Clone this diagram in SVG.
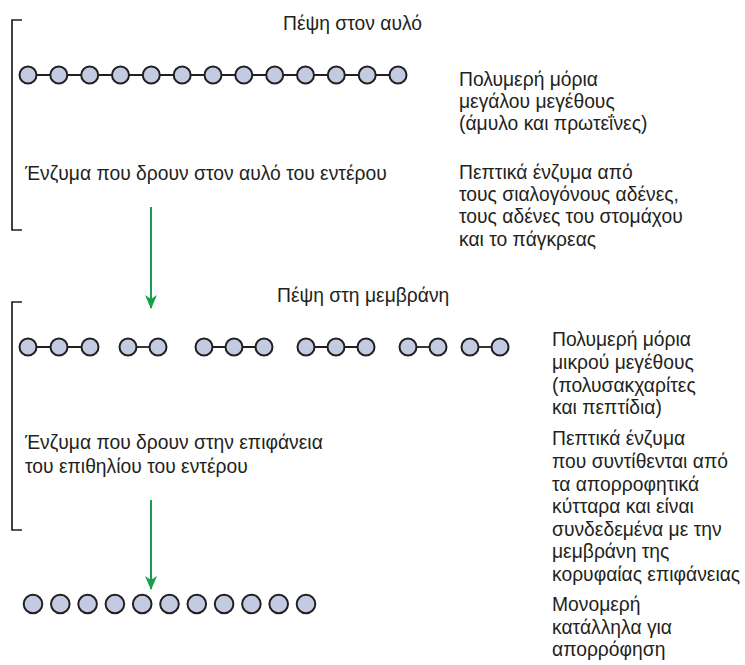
<svg xmlns="http://www.w3.org/2000/svg" width="745" height="665" viewBox="0 0 745 665">
  <style>
    .t { font-family: "Liberation Sans", Arial, sans-serif; font-size: 19.3px; fill: #231f20; }
    .m { fill: #c3cbe2; stroke: #231f20; stroke-width: 2; }
    .bond { stroke: #231f20; stroke-width: 1.8; }
    .br { fill: none; stroke: #231f20; stroke-width: 1.7; }
    .arr { stroke: #16a04a; stroke-width: 2; fill: none; }
  </style>
  <defs>
    <circle id="mono" r="8.5" class="m"/>
    <circle id="free" r="9.3" class="m"/>
    <!-- notched arrowhead, drawn pointing along +x so orient="auto" turns it to the line -->
    <marker id="head" viewBox="0 0 14 12" refX="13" refY="6" markerWidth="14" markerHeight="12" markerUnits="userSpaceOnUse" orient="auto">
      <path d="M0,0 L14,6 L0,12 L4,6 Z" fill="#16a04a"/>
    </marker>
  </defs>

  <rect width="745" height="665" fill="#ffffff"/>

  <!-- luminal digestion stage -->
  <g id="bracket-lumen">
    <path class="br" d="M22,20 H12 V230 H22"/>
  </g>
  <g id="title-lumen">
    <text class="t" x="283" y="30">Πέψη στον αυλό</text>
  </g>
  <g id="chain-large">
    <line class="bond" x1="28" y1="75" x2="398" y2="75"/>
    <use href="#mono" x="28" y="75"/>
    <use href="#mono" x="58.8" y="75"/>
    <use href="#mono" x="89.7" y="75"/>
    <use href="#mono" x="120.5" y="75"/>
    <use href="#mono" x="151.3" y="75"/>
    <use href="#mono" x="182.2" y="75"/>
    <use href="#mono" x="213" y="75"/>
    <use href="#mono" x="243.8" y="75"/>
    <use href="#mono" x="274.7" y="75"/>
    <use href="#mono" x="305.5" y="75"/>
    <use href="#mono" x="336.3" y="75"/>
    <use href="#mono" x="367.2" y="75"/>
    <use href="#mono" x="398" y="75"/>
  </g>
  <g id="label-large">
    <text class="t" x="459" y="86">Πολυμερή μόρια</text>
    <text class="t" x="459" y="108">μεγάλου μεγέθους</text>
    <text class="t" x="459" y="130">(άμυλο και πρωτεΐνες)</text>
  </g>
  <g id="enzymes-lumen">
    <text class="t" x="25" y="180">Ένζυμα που δρουν στον αυλό του εντέρου</text>
  </g>
  <g id="label-lumen-enzymes">
    <text class="t" x="459" y="179">Πεπτικά ένζυμα από</text>
    <text class="t" x="459" y="201">τους σιαλογόνους αδένες,</text>
    <text class="t" x="459" y="223">τους αδένες του στομάχου</text>
    <text class="t" x="459" y="246">και το πάγκρεας</text>
  </g>

  <!-- membrane digestion stage -->
  <g id="bracket-membrane">
    <path class="br" d="M22,302 H12 V530 H22"/>
  </g>
  <g id="title-membrane">
    <text class="t" x="277" y="302">Πέψη στη μεμβράνη</text>
  </g>
  <g id="chain-small">
    <line class="bond" x1="28" y1="347" x2="90" y2="347"/>
    <line class="bond" x1="128" y1="347" x2="158" y2="347"/>
    <line class="bond" x1="204" y1="347" x2="264" y2="347"/>
    <line class="bond" x1="306" y1="347" x2="366" y2="347"/>
    <line class="bond" x1="408" y1="347" x2="438" y2="347"/>
    <line class="bond" x1="470" y1="347" x2="500" y2="347"/>
    <use href="#mono" x="28" y="347"/>
    <use href="#mono" x="59" y="347"/>
    <use href="#mono" x="90" y="347"/>
    <use href="#mono" x="128" y="347"/>
    <use href="#mono" x="158" y="347"/>
    <use href="#mono" x="204" y="347"/>
    <use href="#mono" x="234" y="347"/>
    <use href="#mono" x="264" y="347"/>
    <use href="#mono" x="306" y="347"/>
    <use href="#mono" x="336" y="347"/>
    <use href="#mono" x="366" y="347"/>
    <use href="#mono" x="408" y="347"/>
    <use href="#mono" x="438" y="347"/>
    <use href="#mono" x="470" y="347"/>
    <use href="#mono" x="500" y="347"/>
  </g>
  <g id="label-small">
    <text class="t" x="552" y="346">Πολυμερή μόρια</text>
    <text class="t" x="552" y="369">μικρού μεγέθους</text>
    <text class="t" x="552" y="392">(πολυσακχαρίτες</text>
    <text class="t" x="552" y="414">και πεπτίδια)</text>
  </g>
  <g id="enzymes-membrane">
    <text class="t" x="25" y="449">Ένζυμα που δρουν στην επιφάνεια</text>
    <text class="t" x="25" y="473">του επιθηλίου του εντέρου</text>
  </g>
  <g id="label-membrane-enzymes">
    <text class="t" x="552" y="445">Πεπτικά ένζυμα</text>
    <text class="t" x="552" y="468">που συντίθενται από</text>
    <text class="t" x="552" y="491">τα απορροφητικά</text>
    <text class="t" x="552" y="513">κύτταρα και είναι</text>
    <text class="t" x="552" y="536">συνδεδεμένα με την</text>
    <text class="t" x="552" y="558">μεμβράνη της</text>
    <text class="t" x="552" y="581">κορυφαίας επιφάνειας</text>
  </g>

  <!-- absorbable monomers -->
  <g id="monomers">
    <use href="#free" x="33" y="604"/>
    <use href="#free" x="60.3" y="604"/>
    <use href="#free" x="87.6" y="604"/>
    <use href="#free" x="114.9" y="604"/>
    <use href="#free" x="142.2" y="604"/>
    <use href="#free" x="169.5" y="604"/>
    <use href="#free" x="196.8" y="604"/>
    <use href="#free" x="224.1" y="604"/>
    <use href="#free" x="251.4" y="604"/>
    <use href="#free" x="278.7" y="604"/>
    <use href="#free" x="306" y="604"/>
  </g>
  <g id="label-monomers">
    <text class="t" x="552" y="611">Μονομερή</text>
    <text class="t" x="552" y="634">κατάλληλα για</text>
    <text class="t" x="552" y="656">απορρόφηση</text>
  </g>

  <g id="connectors">
    <line class="arr" x1="151" y1="207" x2="151" y2="308" marker-end="url(#head)"/>
    <line class="arr" x1="151" y1="500" x2="151" y2="589" marker-end="url(#head)"/>
  </g>
</svg>
